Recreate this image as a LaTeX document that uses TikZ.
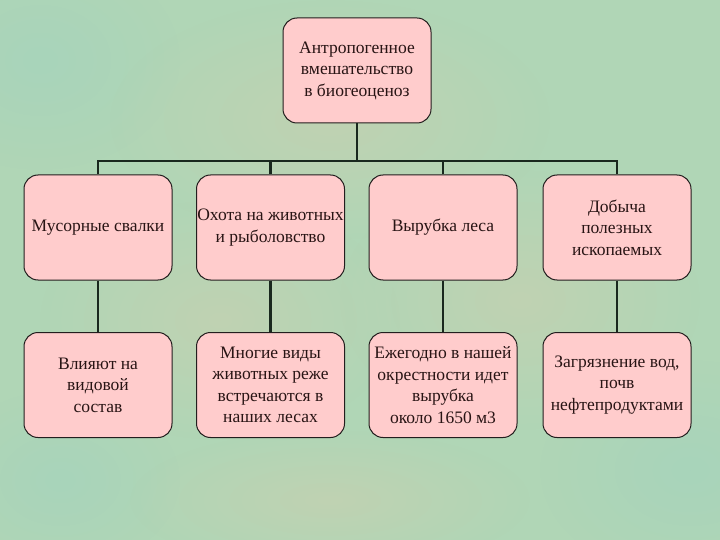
\documentclass[tikz,border=0pt]{standalone}
\usepackage{fontspec}
\setmainfont{Liberation Serif}
\usetikzlibrary{fadings}
\tikzfading[name=softblob, inner color=transparent!0, outer color=transparent!100]
\definecolor{bgA}{RGB}{176,214,182}
\definecolor{bgB}{RGB}{208,206,174}
\definecolor{bgC}{RGB}{160,210,192}
\definecolor{boxfill}{RGB}{255,204,204}
\definecolor{boxline}{RGB}{35,30,30}
\definecolor{conn}{RGB}{25,40,30}
\definecolor{ink}{RGB}{40,20,20}
\tikzset{
  box/.style={draw=boxline, line width=1pt, fill=boxfill, rounded corners=14pt,
    minimum width=148pt, minimum height=105pt, inner sep=0pt},
  txt/.style={align=center, font=\fontsize{17.5}{21.5}\selectfont, text=ink, inner sep=0pt},
  link/.style={draw=conn, line width=2.6pt},
  blob/.style={path fading=softblob, opacity=0.5}
}
\begin{document}
\begin{tikzpicture}[x=1pt,y=-1pt]
\useasboundingbox (0,0) rectangle (720,540);
\fill[bgA] (0,0) rectangle (720,540);
\fill[bgC, blob] (40,60) ellipse (140 and 110);
\fill[bgC, blob] (690,470) ellipse (150 and 110);
\fill[bgC, blob] (60,480) ellipse (120 and 90);
\fill[bgB, blob] (330,120) ellipse (220 and 120);
\fill[bgB, blob] (220,320) ellipse (180 and 120);
\fill[bgB, blob] (520,300) ellipse (180 and 130);
\fill[bgB, blob] (330,500) ellipse (200 and 70);

\node[box] (root) at (357,70.5) {};
\node[txt] (roott) at (root) {Антропогенное\\вмешательство\\в биогеоценоз};

\node[box] (a1) at (98,227.5) {};
\node[box] (a2) at (270.5,227.5) {};
\node[box] (a3) at (443,227.5) {};
\node[box] (a4) at (617,227.5) {};
\node[box] (b1) at (98,385) {};
\node[box] (b2) at (270.5,385) {};
\node[box] (b3) at (443,385) {};
\node[box] (b4) at (617,385) {};

\coordinate (hub) at (357,161);
\draw[link] (root.south) -- (hub);
\foreach \n in {a1,a2,a3,a4} \draw[link] (\n.north) |- (hub);
\foreach \u/\l in {a1/b1,a2/b2,a3/b3,a4/b4} \draw[link] (\u.south) -- (\l.north);

\node[txt] (a1t) at (a1) {Мусорные свалки};
\node[txt] (a2t) at (a2) {Охота на животных\\и рыболовство};
\node[txt] (a3t) at (a3) {Вырубка леса};
\node[txt] (a4t) at (a4) {Добыча\\полезных\\ископаемых};
\node[txt] (b1t) at (b1) {Влияют на\\видовой\\состав};
\node[txt] (b2t) at (b2) {Многие виды\\животных реже\\встречаются в\\наших лесах};
\node[txt] (b3t) at (b3) {Ежегодно в нашей\\окрестности идет\\вырубка\\около 1650 м3};
\node[txt] (b4t) at (b4) {Загрязнение вод,\\почв\\нефтепродуктами};
\end{tikzpicture}
\end{document}
